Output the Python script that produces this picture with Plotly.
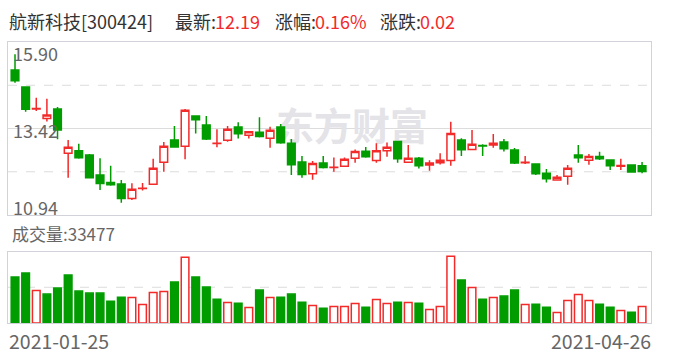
import plotly.graph_objects as go

# ---------------- data ----------------
dates = ["2021-01-25", "2021-01-26", "2021-01-27", "2021-01-28", "2021-01-29",
         "2021-02-01", "2021-02-02", "2021-02-03", "2021-02-04", "2021-02-05",
         "2021-02-08", "2021-02-09", "2021-02-10", "2021-02-18", "2021-02-19",
         "2021-02-22", "2021-02-23", "2021-02-24", "2021-02-25", "2021-02-26",
         "2021-03-01", "2021-03-02", "2021-03-03", "2021-03-04", "2021-03-05",
         "2021-03-08", "2021-03-09", "2021-03-10", "2021-03-11", "2021-03-12",
         "2021-03-15", "2021-03-16", "2021-03-17", "2021-03-18", "2021-03-19",
         "2021-03-22", "2021-03-23", "2021-03-24", "2021-03-25", "2021-03-26",
         "2021-03-29", "2021-03-30", "2021-03-31", "2021-04-01", "2021-04-02",
         "2021-04-06", "2021-04-07", "2021-04-08", "2021-04-09", "2021-04-12",
         "2021-04-13", "2021-04-14", "2021-04-15", "2021-04-16", "2021-04-19",
         "2021-04-20", "2021-04-21", "2021-04-22", "2021-04-23", "2021-04-26"]

opens = [15.10, 14.61, 13.98, 13.71, 13.98, 12.71, 12.78, 12.66, 12.09, 11.87,
         11.83, 11.41, 11.70, 11.82, 12.45, 13.09, 12.91, 13.78, 13.52, 12.99,
         13.08, 13.46, 13.23, 13.31, 13.14, 13.46, 13.00, 12.46, 12.12, 12.43,
         12.30, 12.34, 12.57, 12.77, 12.50, 12.78, 13.05, 12.45, 12.57, 12.37,
         12.44, 12.50, 13.09, 12.82, 12.93, 12.95, 13.03, 12.80, 12.44, 12.40,
         12.14, 11.94, 12.05, 12.66, 12.51, 12.62, 12.52, 12.34, 12.37, 12.35]

highs = [15.55, 14.61, 14.30, 14.27, 14.04, 13.09, 12.98, 12.69, 12.57, 12.35,
         11.94, 11.85, 11.86, 12.55, 13.03, 13.49, 13.98, 13.78, 13.78, 13.40,
         13.49, 13.60, 13.33, 13.74, 13.47, 13.55, 13.12, 12.63, 12.49, 12.63,
         12.59, 12.59, 12.82, 12.89, 13.00, 13.02, 13.05, 12.95, 12.60, 12.51,
         12.71, 13.61, 13.14, 13.38, 12.97, 13.26, 13.12, 12.86, 12.63, 12.40,
         12.26, 12.09, 12.37, 12.95, 12.69, 12.75, 12.54, 12.55, 12.37, 12.46]

lows = [14.73, 13.90, 13.92, 13.62, 13.11, 12.01, 12.55, 12.01, 11.66, 11.78,
        11.29, 11.37, 11.64, 11.81, 12.18, 12.89, 12.54, 13.28, 13.09, 12.88,
        13.04, 13.13, 13.13, 13.16, 12.87, 12.98, 12.09, 12.01, 11.95, 12.27,
        12.18, 12.34, 12.44, 12.58, 12.44, 12.61, 12.44, 12.45, 12.27, 12.21,
        12.39, 12.35, 12.63, 12.82, 12.63, 12.87, 12.76, 12.40, 12.40, 12.09,
        11.87, 11.94, 11.81, 12.44, 12.38, 12.52, 12.23, 12.23, 12.15, 12.14]

closes = [14.79, 13.97, 13.99, 13.81, 13.38, 12.88, 12.58, 12.01, 11.84, 11.81,
          11.41, 11.68, 11.71, 12.28, 12.91, 12.89, 13.94, 13.67, 13.12, 13.00,
          13.40, 13.27, 13.33, 13.19, 13.37, 13.01, 12.38, 12.10, 12.42, 12.30,
          12.31, 12.54, 12.76, 12.61, 12.78, 12.88, 12.55, 12.57, 12.35, 12.43,
          12.51, 13.28, 12.81, 12.97, 12.92, 13.00, 12.84, 12.43, 12.45, 12.12,
          11.98, 12.02, 12.28, 12.58, 12.62, 12.55, 12.35, 12.36, 12.17, 12.19]

volumes = [93600, 101800, 66300, 58800, 71100, 97700, 64900, 60800, 60800, 44400,
           52600, 51900, 37600, 62200, 64200, 83400, 133900, 93600, 73100, 48500,
           41700, 40300, 31400, 67000, 51900, 52600, 58800, 42400, 35500, 30100,
           33500, 33500, 39600, 32100, 47800, 39600, 42400, 41700, 40300, 27300,
           33500, 136000, 87500, 72400, 48500, 51900, 54700, 67000, 37600, 38300,
           32100, 21200, 45800, 58100, 45800, 38300, 32100, 25300, 21900, 33477]

stock_name = "航新科技"
stock_code = "300424"
price_labels = ["15.90", "13.42", "10.94"]
vol_axis_max = 145500

# ---------------- styling / layout helpers ----------------
W, H = 688, 360
RED = "#f22a2a"
GREEN = "#009c00"
TXT = "#333333"
LBL = "#666666"
BORDER = "#d2d2da"
GRID = "#dcdcdc"
FONT = "Noto Sans CJK SC"


def fx(px):
    return px / W


def fy(py):
    return 1 - py / H


n = len(dates)
price_top = float(price_labels[0])
price_mid = float(price_labels[1])
price_bottom = float(price_labels[2])
q = (price_top - price_mid) / 2

vol_up = [closes[0] >= opens[0]] + [closes[i] >= closes[i - 1] for i in range(1, n)]
vol_fill = ["white" if u else GREEN for u in vol_up]
vol_edge = [RED if u else GREEN for u in vol_up]

X0, X1 = 8, 651
P_TOP, P_BOT = 42, 215
V_TOP, V_BOT = 251.5, 323
xrange_cat = [-0.66, n - 1 + 0.84]

fig = go.Figure()

# watermark on base price axes (drawn beneath the overlaid candle axes)
fig.add_trace(go.Scatter(
    x=[0.535], y=[0.49], mode="text", text=["东方财富"],
    textfont=dict(family=FONT, size=38, color="#e3e3e8", weight="bold"),
    xaxis="x", yaxis="y", hoverinfo="skip", showlegend=False))

fig.add_trace(go.Candlestick(
    x=dates, open=opens, high=highs, low=lows, close=closes,
    increasing=dict(line=dict(color=RED, width=1.5), fillcolor="white"),
    decreasing=dict(line=dict(color=GREEN, width=1.5), fillcolor=GREEN),
    whiskerwidth=0, xaxis="x3", yaxis="y3", showlegend=False, hoverinfo="skip"))

fig.add_trace(go.Bar(
    x=dates, y=volumes, width=0.72,
    marker=dict(color=vol_fill, line=dict(color=vol_edge, width=1.5)),
    xaxis="x2", yaxis="y2", showlegend=False, hoverinfo="skip"))

axis_common = dict(showgrid=False, zeroline=False, showticklabels=False, ticks="")

fig.update_layout(
    width=W, height=H, autosize=False,
    margin=dict(l=0, r=0, t=0, b=0),
    paper_bgcolor="white", plot_bgcolor="rgba(0,0,0,0)",
    boxgap=0.28, boxgroupgap=0,
    xaxis=dict(domain=[fx(X0), fx(X1)], range=[0, 1], anchor="y",
               showline=True, mirror=True, linecolor=BORDER, linewidth=1, **axis_common),
    yaxis=dict(domain=[fy(P_BOT), fy(P_TOP)], range=[0, 1], anchor="x",
               showline=True, mirror=True, linecolor=BORDER, linewidth=1, **axis_common),
    xaxis3=dict(overlaying="x", type="category", range=xrange_cat, anchor="y3",
                showline=False, rangeslider=dict(visible=False), **axis_common),
    yaxis3=dict(overlaying="y", range=[price_bottom, price_top], anchor="x3",
                showline=False, **axis_common),
    xaxis2=dict(domain=[fx(X0), fx(X1)], type="category", range=xrange_cat, anchor="y2",
                showline=True, mirror=True, linecolor=BORDER, linewidth=1, **axis_common),
    yaxis2=dict(domain=[fy(V_BOT), fy(V_TOP)], range=[0, vol_axis_max], anchor="x2",
                showline=True, mirror=True, linecolor=BORDER, linewidth=1, **axis_common),
    showlegend=False,
)

# gridlines
shapes = []
for val, dash in [(price_mid + q, "dash"), (price_mid, "solid"), (price_mid - q, "dash")]:
    shapes.append(dict(type="line", xref="paper", yref="y3", x0=fx(X0), x1=fx(X1),
                       y0=val, y1=val, layer="below",
                       line=dict(color=GRID, width=1, dash=dash)))
shapes.append(dict(type="line", xref="paper", yref="y2", x0=fx(X0), x1=fx(X1),
                   y0=vol_axis_max / 2, y1=vol_axis_max / 2, layer="below",
                   line=dict(color=GRID, width=1, dash="dash")))
fig.update_layout(shapes=shapes)

# header
last = closes[-1]
chg = closes[-1] - closes[-2]
pct = chg / closes[-2] * 100
FS = 18
header = [
    (7, f"{stock_name}[{stock_code}]", TXT),
    (173, "最新:", TXT),
    (213, f"{last:.2f}", RED),
    (273, "涨幅:", TXT),
    (313, f"{pct:.2f}%", RED),
    (378, "涨跌:", TXT),
    (418, f"{chg:.2f}", RED),
]
ann = []
for x, t, c in header:
    ann.append(dict(x=fx(x), y=fy(21), xref="paper", yref="paper", text=t,
                    showarrow=False, xanchor="left", yanchor="middle",
                    font=dict(family=FONT, size=FS, color=c)))

# price labels
for t, yc in zip(price_labels, [53, 130, 207]):
    ann.append(dict(x=fx(11), y=fy(yc), xref="paper", yref="paper", text=t,
                    showarrow=False, xanchor="left", yanchor="middle",
                    font=dict(family=FONT, size=FS, color=LBL)))

ann.append(dict(x=fx(10), y=fy(233), xref="paper", yref="paper",
                text=f"成交量:{volumes[-1]}", showarrow=False,
                xanchor="left", yanchor="middle",
                font=dict(family=FONT, size=17, color=LBL)))
ann.append(dict(x=fx(7), y=fy(340), xref="paper", yref="paper", text=dates[0],
                showarrow=False, xanchor="left", yanchor="middle",
                font=dict(family=FONT, size=19.5, color=LBL)))
ann.append(dict(x=fx(653), y=fy(340), xref="paper", yref="paper", text=dates[-1],
                showarrow=False, xanchor="right", yanchor="middle",
                font=dict(family=FONT, size=19.5, color=LBL)))
fig.update_layout(annotations=ann)

fig.write_html("out.html")
